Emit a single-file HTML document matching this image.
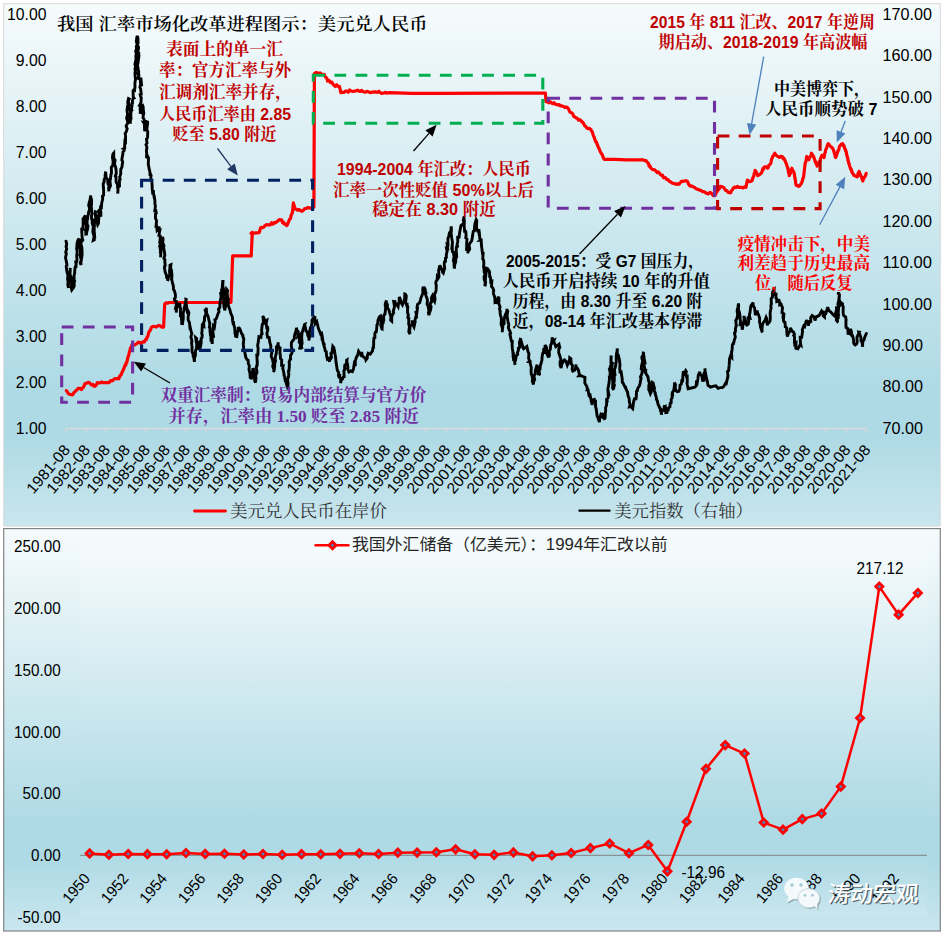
<!DOCTYPE html>
<html lang="zh-CN"><head><meta charset="utf-8"><title>汇率市场化改革进程图示</title>
<style>
html,body{margin:0;padding:0;background:#fff;}
body{width:949px;height:936px;overflow:hidden;}
svg{display:block;}
.ax{font-family:"Liberation Sans", "Noto Sans CJK SC", sans-serif;font-size:15.8px;fill:#000;}
.axx{font-family:"Liberation Sans", "Noto Sans CJK SC", sans-serif;font-size:15.4px;fill:#000;}
.ann{font-family:"Liberation Sans", "Noto Serif CJK SC", serif;font-size:16.67px;font-weight:700;}
.annp{font-family:"Liberation Serif", "Noto Serif CJK SC", serif;font-size:16.67px;font-weight:700;}
.ttl{font-family:"Liberation Sans", "Noto Serif CJK SC", serif;font-size:17.3px;font-weight:600;fill:#000;}
.lg{font-family:"Liberation Sans", "Noto Serif CJK SC", serif;font-size:17.3px;font-weight:400;fill:#333;}
.lg2{font-family:"Liberation Sans", "Noto Sans CJK SC", sans-serif;font-size:16.4px;font-weight:400;fill:#262626;}
</style></head><body>
<svg width="949" height="936" viewBox="0 0 949 936">
<defs>
<linearGradient id="g1" x1="0" y1="0" x2="0" y2="1">
<stop offset="0" stop-color="#F6FBFC"/><stop offset="0.74" stop-color="#AEDAE5"/><stop offset="0.83" stop-color="#AEDAE5"/><stop offset="1" stop-color="#C9E6EE"/>
</linearGradient>
</defs>
<rect x="0" y="0" width="949" height="936" fill="#fff"/>

<rect x="3.7" y="3.7" width="936.6" height="522.4" fill="url(#g1)" stroke="#D9D9D9" stroke-width="1"/>
<path d="M66.0 428.5H866.4" stroke="#D9D9D9" stroke-width="1.3" fill="none"/>
<path d="M66.00 428.5v5M86.01 428.5v5M106.02 428.5v5M126.03 428.5v5M146.04 428.5v5M166.05 428.5v5M186.06 428.5v5M206.07 428.5v5M226.08 428.5v5M246.09 428.5v5M266.10 428.5v5M286.11 428.5v5M306.12 428.5v5M326.13 428.5v5M346.14 428.5v5M366.15 428.5v5M386.16 428.5v5M406.17 428.5v5M426.18 428.5v5M446.19 428.5v5M466.20 428.5v5M486.21 428.5v5M506.22 428.5v5M526.23 428.5v5M546.24 428.5v5M566.25 428.5v5M586.26 428.5v5M606.27 428.5v5M626.28 428.5v5M646.29 428.5v5M666.30 428.5v5M686.31 428.5v5M706.32 428.5v5M726.33 428.5v5M746.34 428.5v5M766.35 428.5v5M786.36 428.5v5M806.37 428.5v5M826.38 428.5v5M846.39 428.5v5M866.40 428.5v5" stroke="#D9D9D9" stroke-width="1.3" fill="none"/>
<text class="ax" x="46.5" y="19.7" text-anchor="end" textLength="39.5" lengthAdjust="spacingAndGlyphs">10.00</text>
<text class="ax" x="46.5" y="65.7" text-anchor="end" textLength="30.7" lengthAdjust="spacingAndGlyphs">9.00</text>
<text class="ax" x="46.5" y="111.7" text-anchor="end" textLength="30.7" lengthAdjust="spacingAndGlyphs">8.00</text>
<text class="ax" x="46.5" y="157.7" text-anchor="end" textLength="30.7" lengthAdjust="spacingAndGlyphs">7.00</text>
<text class="ax" x="46.5" y="203.7" text-anchor="end" textLength="30.7" lengthAdjust="spacingAndGlyphs">6.00</text>
<text class="ax" x="46.5" y="249.7" text-anchor="end" textLength="30.7" lengthAdjust="spacingAndGlyphs">5.00</text>
<text class="ax" x="46.5" y="295.7" text-anchor="end" textLength="30.7" lengthAdjust="spacingAndGlyphs">4.00</text>
<text class="ax" x="46.5" y="341.7" text-anchor="end" textLength="30.7" lengthAdjust="spacingAndGlyphs">3.00</text>
<text class="ax" x="46.5" y="387.7" text-anchor="end" textLength="30.7" lengthAdjust="spacingAndGlyphs">2.00</text>
<text class="ax" x="46.5" y="433.7" text-anchor="end" textLength="30.7" lengthAdjust="spacingAndGlyphs">1.00</text>
<text class="ax" x="882.6" y="19.7" textLength="49.4" lengthAdjust="spacingAndGlyphs">170.00</text>
<text class="ax" x="882.6" y="61.1" textLength="49.4" lengthAdjust="spacingAndGlyphs">160.00</text>
<text class="ax" x="882.6" y="102.5" textLength="49.4" lengthAdjust="spacingAndGlyphs">150.00</text>
<text class="ax" x="882.6" y="143.9" textLength="49.4" lengthAdjust="spacingAndGlyphs">140.00</text>
<text class="ax" x="882.6" y="185.3" textLength="49.4" lengthAdjust="spacingAndGlyphs">130.00</text>
<text class="ax" x="882.6" y="226.7" textLength="49.4" lengthAdjust="spacingAndGlyphs">120.00</text>
<text class="ax" x="882.6" y="268.1" textLength="49.4" lengthAdjust="spacingAndGlyphs">110.00</text>
<text class="ax" x="882.6" y="309.5" textLength="49.4" lengthAdjust="spacingAndGlyphs">100.00</text>
<text class="ax" x="882.6" y="350.9" textLength="40.4" lengthAdjust="spacingAndGlyphs">90.00</text>
<text class="ax" x="882.6" y="392.3" textLength="40.4" lengthAdjust="spacingAndGlyphs">80.00</text>
<text class="ax" x="882.6" y="433.7" textLength="40.4" lengthAdjust="spacingAndGlyphs">70.00</text>
<text class="axx" transform="translate(70.9 450.3) rotate(-50)" text-anchor="end" textLength="58" lengthAdjust="spacingAndGlyphs">1981-08</text>
<text class="axx" transform="translate(90.9 450.3) rotate(-50)" text-anchor="end" textLength="58" lengthAdjust="spacingAndGlyphs">1982-08</text>
<text class="axx" transform="translate(110.9 450.3) rotate(-50)" text-anchor="end" textLength="58" lengthAdjust="spacingAndGlyphs">1983-08</text>
<text class="axx" transform="translate(130.9 450.3) rotate(-50)" text-anchor="end" textLength="58" lengthAdjust="spacingAndGlyphs">1984-08</text>
<text class="axx" transform="translate(150.9 450.3) rotate(-50)" text-anchor="end" textLength="58" lengthAdjust="spacingAndGlyphs">1985-08</text>
<text class="axx" transform="translate(171.0 450.3) rotate(-50)" text-anchor="end" textLength="58" lengthAdjust="spacingAndGlyphs">1986-08</text>
<text class="axx" transform="translate(191.0 450.3) rotate(-50)" text-anchor="end" textLength="58" lengthAdjust="spacingAndGlyphs">1987-08</text>
<text class="axx" transform="translate(211.0 450.3) rotate(-50)" text-anchor="end" textLength="58" lengthAdjust="spacingAndGlyphs">1988-08</text>
<text class="axx" transform="translate(231.0 450.3) rotate(-50)" text-anchor="end" textLength="58" lengthAdjust="spacingAndGlyphs">1989-08</text>
<text class="axx" transform="translate(251.0 450.3) rotate(-50)" text-anchor="end" textLength="58" lengthAdjust="spacingAndGlyphs">1990-08</text>
<text class="axx" transform="translate(271.0 450.3) rotate(-50)" text-anchor="end" textLength="58" lengthAdjust="spacingAndGlyphs">1991-08</text>
<text class="axx" transform="translate(291.0 450.3) rotate(-50)" text-anchor="end" textLength="58" lengthAdjust="spacingAndGlyphs">1992-08</text>
<text class="axx" transform="translate(311.0 450.3) rotate(-50)" text-anchor="end" textLength="58" lengthAdjust="spacingAndGlyphs">1993-08</text>
<text class="axx" transform="translate(331.0 450.3) rotate(-50)" text-anchor="end" textLength="58" lengthAdjust="spacingAndGlyphs">1994-08</text>
<text class="axx" transform="translate(351.0 450.3) rotate(-50)" text-anchor="end" textLength="58" lengthAdjust="spacingAndGlyphs">1995-08</text>
<text class="axx" transform="translate(371.0 450.3) rotate(-50)" text-anchor="end" textLength="58" lengthAdjust="spacingAndGlyphs">1996-08</text>
<text class="axx" transform="translate(391.1 450.3) rotate(-50)" text-anchor="end" textLength="58" lengthAdjust="spacingAndGlyphs">1997-08</text>
<text class="axx" transform="translate(411.1 450.3) rotate(-50)" text-anchor="end" textLength="58" lengthAdjust="spacingAndGlyphs">1998-08</text>
<text class="axx" transform="translate(431.1 450.3) rotate(-50)" text-anchor="end" textLength="58" lengthAdjust="spacingAndGlyphs">1999-08</text>
<text class="axx" transform="translate(451.1 450.3) rotate(-50)" text-anchor="end" textLength="58" lengthAdjust="spacingAndGlyphs">2000-08</text>
<text class="axx" transform="translate(471.1 450.3) rotate(-50)" text-anchor="end" textLength="58" lengthAdjust="spacingAndGlyphs">2001-08</text>
<text class="axx" transform="translate(491.1 450.3) rotate(-50)" text-anchor="end" textLength="58" lengthAdjust="spacingAndGlyphs">2002-08</text>
<text class="axx" transform="translate(511.1 450.3) rotate(-50)" text-anchor="end" textLength="58" lengthAdjust="spacingAndGlyphs">2003-08</text>
<text class="axx" transform="translate(531.1 450.3) rotate(-50)" text-anchor="end" textLength="58" lengthAdjust="spacingAndGlyphs">2004-08</text>
<text class="axx" transform="translate(551.1 450.3) rotate(-50)" text-anchor="end" textLength="58" lengthAdjust="spacingAndGlyphs">2005-08</text>
<text class="axx" transform="translate(571.1 450.3) rotate(-50)" text-anchor="end" textLength="58" lengthAdjust="spacingAndGlyphs">2006-08</text>
<text class="axx" transform="translate(591.2 450.3) rotate(-50)" text-anchor="end" textLength="58" lengthAdjust="spacingAndGlyphs">2007-08</text>
<text class="axx" transform="translate(611.2 450.3) rotate(-50)" text-anchor="end" textLength="58" lengthAdjust="spacingAndGlyphs">2008-08</text>
<text class="axx" transform="translate(631.2 450.3) rotate(-50)" text-anchor="end" textLength="58" lengthAdjust="spacingAndGlyphs">2009-08</text>
<text class="axx" transform="translate(651.2 450.3) rotate(-50)" text-anchor="end" textLength="58" lengthAdjust="spacingAndGlyphs">2010-08</text>
<text class="axx" transform="translate(671.2 450.3) rotate(-50)" text-anchor="end" textLength="58" lengthAdjust="spacingAndGlyphs">2011-08</text>
<text class="axx" transform="translate(691.2 450.3) rotate(-50)" text-anchor="end" textLength="58" lengthAdjust="spacingAndGlyphs">2012-08</text>
<text class="axx" transform="translate(711.2 450.3) rotate(-50)" text-anchor="end" textLength="58" lengthAdjust="spacingAndGlyphs">2013-08</text>
<text class="axx" transform="translate(731.2 450.3) rotate(-50)" text-anchor="end" textLength="58" lengthAdjust="spacingAndGlyphs">2014-08</text>
<text class="axx" transform="translate(751.2 450.3) rotate(-50)" text-anchor="end" textLength="58" lengthAdjust="spacingAndGlyphs">2015-08</text>
<text class="axx" transform="translate(771.2 450.3) rotate(-50)" text-anchor="end" textLength="58" lengthAdjust="spacingAndGlyphs">2016-08</text>
<text class="axx" transform="translate(791.3 450.3) rotate(-50)" text-anchor="end" textLength="58" lengthAdjust="spacingAndGlyphs">2017-08</text>
<text class="axx" transform="translate(811.3 450.3) rotate(-50)" text-anchor="end" textLength="58" lengthAdjust="spacingAndGlyphs">2018-08</text>
<text class="axx" transform="translate(831.3 450.3) rotate(-50)" text-anchor="end" textLength="58" lengthAdjust="spacingAndGlyphs">2019-08</text>
<text class="axx" transform="translate(851.3 450.3) rotate(-50)" text-anchor="end" textLength="58" lengthAdjust="spacingAndGlyphs">2020-08</text>
<text class="axx" transform="translate(871.3 450.3) rotate(-50)" text-anchor="end" textLength="58" lengthAdjust="spacingAndGlyphs">2021-08</text>
<path d="M66.4 390.6 L67.5 392.1 L68.5 393.8 L70.1 394.4 L71.8 394.8 L72.8 394.7 L73.9 392.6 L75.0 391.6 L76.0 390.6 L77.1 389.7 L78.2 388.4 L79.8 388.3 L81.4 389.5 L82.2 388.3 L83.1 387.4 L83.9 386.5 L84.8 383.8 L85.6 383.5 L87.1 382.9 L88.5 382.3 L89.9 383.1 L91.0 384.6 L92.1 385.1 L93.1 384.5 L94.2 386.3 L95.3 386.1 L96.3 384.9 L97.4 382.6 L98.7 383.0 L100.1 382.9 L101.4 381.9 L102.7 382.6 L109.1 382.6 L110.6 380.7 L112.0 380.9 L113.4 379.9 L114.8 378.6 L116.1 378.7 L117.4 378.5 L118.8 378.8 L119.4 376.5 L120.0 376.3 L120.6 375.0 L121.2 374.7 L121.8 372.7 L122.4 371.8 L123.0 370.3 L123.6 369.0 L124.1 368.1 L124.6 366.4 L125.2 364.8 L125.7 365.1 L126.2 362.8 L126.7 362.6 L127.1 361.0 L127.5 359.5 L127.9 357.4 L128.4 356.0 L128.8 355.3 L129.1 353.3 L129.5 351.4 L129.8 351.4 L130.2 349.1 L130.5 347.8 L131.2 347.4 L131.9 345.1 L132.6 344.2 L134.1 345.0 L135.5 344.5 L136.9 343.5 L138.3 342.2 L139.6 342.4 L140.9 343.6 L142.3 342.5 L143.3 341.6 L144.4 341.9 L145.5 339.8 L146.5 339.3 L147.0 337.1 L147.5 337.1 L147.9 336.2 L148.4 333.9 L148.8 332.3 L149.3 331.6 L149.7 330.7 L150.3 330.5 L150.9 328.9 L151.5 327.1 L153.0 326.3 L154.6 326.5 L156.2 327.1 L157.6 325.9 L159.0 325.4 L160.4 326.0 L162.0 327.2 L163.6 327.1 L164.7 304.0 L166.1 302.8 L167.5 303.2 L169.0 302.5 L230.9 302.5 L231.0 301.1 L231.0 299.2 L231.1 299.0 L231.1 296.4 L231.2 296.2 L231.2 293.7 L231.3 293.0 L231.3 291.2 L231.4 290.0 L231.4 290.2 L231.5 288.5 L231.5 286.1 L231.6 286.1 L231.6 283.3 L231.7 282.3 L231.7 282.0 L231.8 280.2 L231.8 277.7 L231.9 278.3 L231.9 275.3 L232.0 274.0 L232.0 273.8 L232.1 271.5 L232.1 270.1 L232.2 268.3 L232.2 267.0 L232.3 266.8 L232.3 264.7 L232.4 264.1 L232.4 262.3 L232.5 261.2 L232.5 260.9 L232.6 258.6 L232.6 257.4 L232.6 255.9 L251.2 255.9 L252.3 232.4 L251.1 233.3 L258.8 232.7 L259.4 232.2 L260.1 229.3 L260.7 227.9 L261.4 227.4 L262.6 227.7 L263.9 227.0 L265.2 225.3 L266.5 224.6 L267.8 224.8 L269.1 224.9 L270.3 224.9 L271.6 222.8 L272.9 224.1 L274.2 222.6 L275.5 222.9 L276.8 221.8 L278.0 220.8 L279.3 219.6 L280.6 219.9 L281.6 219.8 L282.6 222.8 L283.6 222.2 L284.6 224.2 L285.6 224.1 L286.6 225.6 L287.3 225.0 L288.0 223.1 L288.8 221.1 L289.5 219.5 L290.2 218.8 L290.6 218.0 L291.1 215.3 L291.5 214.4 L291.9 213.8 L292.4 212.4 L293.4 202.8 L293.8 204.8 L294.1 205.6 L294.4 206.1 L294.8 208.8 L295.1 209.2 L296.4 209.1 L297.7 210.3 L299.1 209.5 L300.5 210.5 L302.0 211.3 L303.4 210.3 L304.8 208.5 L306.2 208.5 L307.6 207.6 L308.9 207.8 L310.2 208.1 L311.6 207.7 L313.9 207.1 L314.4 73.5 L315.8 72.5 L317.2 72.9 L318.7 73.9 L320.1 72.9 L321.6 74.5 L323.0 74.3 L324.4 74.6 L325.0 76.3 L325.7 77.3 L326.3 77.6 L327.0 78.7 L327.6 81.0 L329.0 80.3 L330.5 82.6 L331.9 82.1 L332.9 84.1 L334.0 85.3 L335.4 86.5 L336.7 84.7 L338.0 86.4 L339.4 86.3 L340.9 92.7 L342.4 92.3 L343.8 92.5 L345.3 91.2 L346.8 91.2 L348.2 92.2 L349.5 90.0 L350.8 90.9 L352.2 91.2 L353.5 91.5 L354.9 91.0 L356.2 90.8 L357.5 90.2 L358.9 91.0 L360.2 91.5 L361.5 90.4 L362.9 91.3 L364.2 92.0 L365.5 92.1 L366.9 91.3 L368.2 91.7 L369.5 92.4 L370.9 92.6 L372.2 92.0 L373.5 92.2 L374.9 91.7 L376.2 92.2 L377.6 92.4 L378.9 91.3 L380.2 92.6 L381.6 93.4 L382.9 93.2 L384.2 93.0 L385.6 92.3 L386.9 93.1 L388.2 92.8 L389.6 92.7 L410.9 93.4 L440.0 93.4 L545.4 93.1 L546.0 101.7 L547.4 101.8 L548.7 102.9 L550.0 101.6 L551.4 102.7 L552.6 103.7 L553.9 102.6 L555.2 104.2 L556.5 104.4 L557.8 104.9 L559.2 104.6 L560.6 106.0 L562.1 105.9 L563.5 106.5 L564.9 107.6 L566.3 107.0 L567.2 107.5 L568.0 108.1 L568.9 109.8 L569.7 111.7 L570.6 112.4 L571.7 112.8 L572.7 113.8 L573.8 116.4 L574.9 117.0 L575.9 117.7 L577.3 118.4 L578.6 120.2 L579.9 119.7 L581.3 120.9 L582.1 122.3 L583.0 122.4 L583.8 124.0 L584.7 125.8 L585.6 126.2 L586.9 128.0 L588.2 128.7 L589.6 128.4 L590.9 129.4 L591.4 130.9 L592.0 131.5 L592.5 132.4 L593.0 134.4 L593.6 136.4 L594.1 136.9 L594.6 139.0 L595.2 140.1 L595.7 141.9 L596.2 141.8 L596.8 142.9 L597.3 144.8 L597.8 145.8 L598.4 147.6 L599.0 148.3 L599.7 150.0 L600.3 151.7 L600.9 152.7 L601.6 154.0 L602.4 154.9 L603.2 157.4 L604.0 159.1 L604.8 159.4 L615.5 159.4 L626.2 159.8 L643.2 159.8 L644.7 160.6 L646.1 160.7 L647.5 162.6 L648.3 162.9 L649.1 166.1 L649.9 165.6 L650.7 167.9 L652.1 169.2 L653.4 169.7 L654.7 169.9 L656.1 171.1 L657.1 172.6 L658.2 171.8 L659.3 172.9 L660.3 174.4 L661.4 175.4 L662.5 175.2 L663.5 177.8 L664.6 177.4 L665.7 178.0 L666.8 179.7 L668.1 179.5 L669.4 181.5 L670.8 181.9 L672.1 182.9 L673.4 183.4 L674.8 183.7 L676.1 184.3 L677.4 183.9 L678.8 184.3 L680.1 183.1 L681.4 181.3 L682.8 181.4 L684.4 181.0 L686.0 180.7 L686.8 181.1 L687.7 181.8 L688.5 183.9 L689.4 185.5 L690.3 186.1 L691.6 185.9 L692.9 186.6 L694.3 187.3 L695.6 188.2 L696.9 189.2 L698.3 189.3 L699.6 190.1 L700.9 190.3 L702.4 191.6 L703.8 191.5 L705.2 192.5 L706.8 193.4 L708.4 193.9 L710.0 192.4 L711.6 193.5 L713.2 195.6 L714.8 195.7 L715.6 194.8 L716.3 192.2 L717.1 191.7 L717.9 190.3 L718.7 189.3 L719.5 188.6 L720.3 186.4 L721.9 186.6 L723.5 187.4 L724.6 188.7 L725.6 190.4 L726.7 190.6 L728.3 192.4 L729.9 192.8 L730.7 192.7 L731.5 190.6 L732.3 189.9 L733.1 188.5 L734.5 187.1 L736.0 187.6 L737.4 186.4 L738.8 187.4 L740.2 187.4 L741.7 187.4 L743.1 187.9 L744.5 186.8 L745.9 187.4 L747.4 180.0 L748.7 181.2 L750.0 181.7 L751.3 181.0 L752.0 180.7 L752.7 178.3 L753.4 176.8 L753.8 176.1 L754.1 173.8 L754.4 173.8 L754.8 172.4 L755.1 170.3 L755.8 171.3 L756.4 172.1 L757.1 174.2 L757.7 175.7 L759.3 174.7 L760.9 173.5 L761.5 172.9 L762.2 171.0 L762.8 168.7 L763.5 169.1 L764.1 167.1 L765.7 166.7 L767.3 168.2 L768.1 167.8 L768.9 165.3 L769.7 164.6 L770.5 163.9 L770.9 163.1 L771.4 160.1 L771.8 158.7 L772.2 158.0 L772.6 156.5 L773.7 155.3 L774.8 153.2 L775.9 155.1 L776.9 155.8 L778.0 156.5 L779.4 157.4 L780.8 156.4 L782.3 156.5 L783.1 158.8 L783.9 158.2 L784.7 159.8 L785.5 161.8 L786.0 163.2 L786.5 164.0 L787.1 166.3 L787.6 167.1 L787.9 168.9 L788.2 170.0 L788.5 172.2 L788.7 173.0 L789.0 173.8 L789.3 175.7 L789.7 174.2 L790.2 174.0 L790.6 172.8 L791.0 170.1 L791.5 170.2 L791.9 168.2 L792.6 170.7 L793.3 171.1 L794.0 172.5 L794.3 174.1 L794.5 174.7 L794.7 176.8 L795.0 178.2 L795.2 179.8 L795.4 180.0 L795.7 183.5 L795.9 183.9 L796.2 185.3 L797.4 185.6 L798.7 186.4 L799.6 186.0 L800.6 184.4 L801.5 183.2 L801.9 181.9 L802.4 181.0 L802.8 178.4 L803.2 178.1 L803.6 176.8 L805.1 163.9 L805.5 162.2 L805.8 161.9 L806.2 160.4 L806.5 157.4 L806.8 156.5 L807.9 158.0 L809.0 159.7 L809.5 157.6 L810.0 156.9 L810.5 156.5 L811.0 155.4 L811.5 153.2 L812.2 154.5 L812.9 155.5 L813.6 156.6 L814.3 158.6 L814.8 160.1 L815.2 162.0 L815.7 161.5 L816.2 164.2 L816.6 163.8 L817.1 166.1 L817.9 164.0 L818.8 162.6 L819.7 161.8 L820.1 160.9 L820.5 158.8 L820.9 157.6 L821.4 156.9 L821.8 155.4 L822.9 155.6 L823.9 157.5 L824.3 156.6 L824.6 153.8 L825.0 153.3 L825.4 151.3 L825.7 149.7 L826.1 149.0 L826.6 147.7 L827.1 146.2 L827.7 144.7 L828.2 143.6 L829.1 144.5 L829.9 145.8 L830.8 146.8 L831.7 147.2 L832.6 148.3 L833.5 150.0 L834.0 151.8 L834.4 153.3 L834.8 154.6 L835.3 156.8 L835.7 157.5 L836.1 156.5 L836.5 155.7 L837.0 153.1 L837.4 152.9 L837.8 151.1 L838.4 150.5 L838.9 149.3 L839.4 146.7 L840.0 145.8 L841.3 144.3 L842.7 143.6 L843.4 145.9 L844.0 145.7 L844.7 148.7 L845.3 149.0 L845.7 151.3 L846.0 151.0 L846.4 152.7 L846.7 155.2 L847.1 155.6 L847.4 157.5 L847.8 158.1 L848.1 161.1 L848.5 161.6 L848.9 163.9 L849.2 163.8 L849.6 166.1 L850.1 167.1 L850.6 169.0 L851.1 168.9 L851.6 170.5 L852.1 172.5 L853.1 173.9 L854.0 175.5 L854.9 175.7 L857.1 176.8 L857.6 176.4 L858.1 173.2 L858.7 172.8 L859.2 171.4 L859.7 173.3 L860.3 174.1 L860.8 175.8 L861.3 176.8 L862.8 181.0 L863.5 178.9 L864.2 177.2 L865.0 176.8 L866.2 173.5" fill="none" stroke="#FF0000" stroke-width="3.2" stroke-linejoin="round" stroke-linecap="round"/>
<path d="M66.0 241.2 L66.7 244.1 L66.4 245.9 L66.1 245.4 L66.1 246.7 L66.7 248.7 L65.7 252.5 L66.4 253.5 L65.5 257.8 L66.1 260.2 L66.9 264.4 L66.8 266.3 L66.5 265.4 L66.2 266.6 L66.4 267.9 L67.0 272.1 L67.7 274.1 L67.9 273.7 L67.7 278.3 L67.5 279.1 L68.1 281.5 L67.7 285.5 L68.0 285.1 L68.6 288.0 L68.4 287.1 L68.1 286.6 L69.2 282.1 L69.2 278.0 L69.7 274.8 L69.8 276.2 L69.6 275.6 L70.1 272.9 L70.2 270.1 L70.2 267.9 L70.1 269.8 L70.2 269.3 L69.9 273.9 L71.0 277.5 L70.8 277.8 L71.2 277.6 L71.9 279.9 L71.2 281.5 L71.9 283.9 L71.2 287.5 L71.8 290.0 L73.4 287.9 L74.2 285.9 L74.2 282.4 L74.9 280.1 L74.1 281.0 L74.1 275.5 L74.7 272.9 L74.6 272.4 L75.0 267.7 L75.4 266.8 L75.9 268.0 L76.1 264.4 L75.8 262.0 L76.5 262.0 L77.0 260.2 L76.7 255.7 L77.2 251.6 L76.6 248.7 L76.8 247.2 L76.8 246.0 L77.2 242.5 L77.8 240.6 L79.0 238.4 L78.9 239.4 L79.3 240.2 L79.8 242.5 L78.7 247.3 L79.3 248.0 L80.2 247.7 L80.3 250.6 L80.7 255.3 L79.6 254.0 L80.7 257.8 L81.4 260.3 L80.2 262.6 L81.0 265.1 L80.9 261.6 L81.4 258.4 L81.7 257.9 L80.9 255.1 L82.0 255.4 L82.1 254.2 L82.1 252.1 L81.8 246.9 L81.0 244.7 L81.2 240.9 L82.0 239.6 L81.9 241.3 L82.8 240.1 L82.2 238.3 L81.8 232.5 L81.7 229.3 L82.9 229.3 L82.6 228.8 L83.1 226.1 L83.1 221.0 L83.4 222.4 L83.0 219.2 L85.5 215.4 L85.1 216.7 L85.8 222.0 L85.2 221.9 L86.3 225.0 L86.7 224.2 L85.9 229.6 L85.6 228.5 L85.9 234.0 L86.5 233.8 L85.9 229.8 L86.8 231.8 L87.7 228.5 L87.9 225.7 L87.1 225.4 L87.1 220.9 L87.7 218.2 L87.8 216.1 L88.7 213.4 L88.4 212.4 L88.7 211.7 L89.6 209.4 L89.4 207.6 L88.7 205.7 L89.0 203.3 L90.2 199.1 L90.3 197.3 L90.6 198.3 L90.8 195.4 L90.5 197.8 L90.9 197.7 L91.6 199.9 L91.5 204.7 L91.2 206.4 L91.7 210.1 L91.8 211.0 L91.7 212.2 L92.0 213.7 L91.5 215.8 L91.6 219.0 L92.7 222.5 L92.1 223.0 L93.2 226.0 L93.2 224.5 L93.6 225.4 L93.2 227.2 L92.8 232.9 L93.0 232.5 L94.1 236.5 L93.3 240.3 L94.3 239.8 L94.4 237.4 L94.8 238.5 L94.4 232.9 L94.2 231.8 L94.2 228.3 L93.7 228.6 L94.4 226.4 L94.4 221.5 L94.8 221.9 L95.8 217.6 L96.1 218.8 L95.1 213.9 L95.7 210.9 L95.6 211.0 L95.2 212.8 L96.2 217.0 L95.7 216.2 L96.1 219.7 L97.5 219.4 L97.5 224.0 L97.7 224.8 L98.4 223.6 L98.7 219.1 L98.9 216.3 L98.3 215.9 L99.2 214.7 L98.3 211.2 L99.1 210.2 L100.3 210.3 L100.9 211.9 L100.8 216.6 L100.6 216.0 L100.6 213.2 L100.4 210.2 L100.5 207.3 L101.4 207.6 L101.7 203.3 L101.3 204.5 L101.8 202.7 L102.7 199.0 L102.4 196.2 L103.5 195.4 L103.7 191.9 L103.7 191.3 L103.4 188.0 L103.2 183.8 L104.3 181.4 L104.0 180.2 L105.1 177.6 L105.4 179.5 L105.1 175.3 L105.5 172.8 L106.0 171.4 L105.6 172.5 L106.3 178.2 L106.1 177.5 L107.2 179.0 L107.7 179.3 L107.9 183.4 L108.2 184.5 L108.9 185.3 L109.1 187.4 L108.9 191.3 L108.6 188.4 L109.3 188.1 L109.9 187.3 L110.5 185.4 L110.0 181.5 L109.6 182.0 L110.4 179.2 L111.1 173.4 L111.1 174.7 L111.5 172.7 L111.3 167.4 L111.5 166.7 L112.4 166.3 L113.0 163.5 L113.1 161.6 L112.4 157.0 L113.0 153.8 L113.7 153.0 L113.7 155.7 L113.9 158.7 L115.1 160.2 L114.5 163.8 L114.7 164.8 L115.7 167.3 L115.9 169.9 L116.0 168.7 L116.3 173.3 L115.3 176.2 L116.1 177.1 L116.0 178.9 L116.2 182.4 L117.3 184.1 L117.5 183.5 L117.6 188.0 L118.2 189.8 L118.1 189.2 L117.7 193.6 L117.7 192.4 L118.1 189.7 L117.8 187.1 L118.1 187.2 L119.5 186.3 L119.4 179.4 L120.3 180.5 L119.7 177.1 L120.8 173.6 L120.7 171.1 L120.8 168.6 L120.7 169.5 L121.1 168.8 L121.9 167.2 L122.7 161.8 L121.8 160.0 L122.5 155.5 L122.7 155.1 L123.0 151.8 L124.2 150.4 L124.3 148.6 L123.9 148.5 L124.8 147.9 L124.6 145.9 L124.9 141.1 L125.5 141.6 L125.6 136.8 L125.2 133.4 L126.3 131.7 L127.2 128.9 L126.4 126.8 L126.1 126.1 L127.3 123.8 L127.5 124.4 L127.9 121.7 L127.5 121.1 L126.6 118.2 L127.1 116.1 L127.6 114.2 L126.9 109.7 L127.0 110.4 L127.4 106.8 L128.2 103.5 L127.8 104.6 L127.8 101.7 L128.5 98.6 L129.2 98.9 L128.3 100.8 L129.2 104.3 L128.4 109.0 L129.6 109.3 L130.2 109.6 L130.5 112.1 L130.5 113.8 L129.6 117.6 L130.2 121.0 L130.3 121.8 L130.4 123.8 L130.3 119.4 L130.2 121.5 L131.1 118.1 L130.8 117.4 L130.9 112.6 L131.4 110.5 L132.4 111.3 L131.4 109.4 L132.4 103.0 L132.5 104.3 L132.4 100.8 L133.3 98.1 L133.9 97.9 L133.2 96.9 L133.1 90.6 L134.0 89.6 L134.6 90.0 L135.0 86.9 L134.9 83.6 L135.5 79.0 L135.5 78.5 L135.2 77.3 L135.0 73.0 L135.7 73.0 L135.0 68.6 L135.6 68.1 L135.3 65.6 L134.9 64.5 L135.6 61.1 L136.2 62.1 L136.1 60.3 L135.8 54.9 L136.5 55.7 L135.7 50.9 L136.5 49.2 L136.3 46.4 L137.3 45.4 L136.3 41.0 L136.8 38.8 L136.6 38.3 L137.3 35.9 L137.9 37.8 L138.1 41.9 L138.3 43.7 L137.7 42.6 L137.3 44.2 L138.5 47.1 L138.6 47.9 L137.8 52.0 L138.6 52.9 L137.8 53.7 L139.0 55.4 L138.8 57.0 L137.9 63.4 L137.4 65.7 L138.3 69.0 L137.6 67.5 L138.7 71.6 L138.5 73.9 L138.5 74.5 L139.0 75.2 L137.9 78.4 L141.0 78.8 L141.4 83.1 L140.4 82.2 L140.7 86.0 L140.7 84.4 L139.9 87.3 L140.6 88.6 L141.3 94.2 L140.2 94.6 L141.1 98.1 L141.3 96.8 L141.0 102.6 L139.9 104.7 L140.5 104.6 L140.1 109.4 L139.8 108.5 L140.4 110.1 L140.2 112.4 L141.1 112.7 L140.9 111.5 L142.0 106.1 L142.7 105.6 L143.2 106.9 L143.2 108.7 L143.8 113.3 L143.2 115.5 L143.0 117.7 L143.8 118.7 L144.0 119.1 L144.7 123.1 L143.8 122.8 L144.8 124.5 L144.4 125.5 L144.6 130.0 L146.1 130.2 L145.7 125.2 L146.7 121.7 L147.6 122.1 L147.7 122.8 L147.2 126.5 L146.8 129.6 L147.7 131.6 L147.7 134.7 L147.5 135.6 L147.7 138.3 L147.6 138.0 L146.5 139.1 L147.0 143.2 L146.0 144.8 L146.9 147.4 L146.4 151.2 L146.7 152.8 L146.6 154.6 L146.5 158.1 L147.7 156.3 L148.5 157.8 L148.3 164.3 L148.9 167.3 L149.2 169.3 L149.0 168.4 L149.9 171.8 L150.0 174.2 L150.5 174.1 L151.1 175.2 L150.8 177.8 L151.6 182.0 L151.8 181.3 L152.2 186.2 L152.1 187.8 L152.5 191.5 L153.5 190.3 L153.4 193.5 L154.4 197.0 L154.1 197.2 L154.9 200.0 L154.9 202.7 L154.9 203.8 L155.4 206.1 L154.8 210.8 L155.9 210.8 L156.4 214.2 L155.5 212.9 L155.5 216.3 L155.5 218.6 L156.8 220.9 L156.6 220.7 L156.1 225.4 L156.5 225.2 L156.9 228.2 L157.1 230.6 L158.8 229.1 L159.3 226.3 L158.6 230.3 L159.9 230.0 L158.9 235.5 L160.2 236.0 L160.1 240.1 L159.7 242.6 L160.4 244.4 L160.6 246.2 L159.7 246.4 L160.5 250.2 L160.5 249.6 L160.5 252.6 L160.8 252.9 L160.6 257.3 L160.9 252.7 L160.2 253.4 L160.3 252.5 L161.2 249.4 L161.3 247.2 L161.9 244.0 L162.3 241.6 L162.3 239.5 L162.5 236.9 L163.1 239.2 L162.6 243.3 L163.5 244.2 L164.0 246.1 L163.7 246.5 L163.7 248.0 L164.5 252.1 L164.8 255.4 L163.9 258.4 L164.9 259.5 L164.8 261.4 L165.2 265.7 L164.5 266.5 L164.5 269.7 L164.7 268.9 L165.1 271.9 L166.8 276.1 L166.4 278.4 L167.5 276.6 L167.7 280.8 L167.8 280.6 L168.1 278.3 L169.7 274.8 L169.5 270.5 L169.8 269.4 L170.0 265.1 L170.9 264.7 L170.5 268.1 L170.7 268.2 L171.3 269.6 L171.9 274.2 L171.8 278.2 L171.4 279.3 L171.8 279.9 L172.5 282.9 L173.4 286.3 L173.4 289.9 L173.5 289.2 L174.5 291.1 L175.4 294.4 L175.4 297.4 L174.4 298.9 L174.7 300.5 L176.0 301.0 L176.4 301.3 L176.1 306.1 L175.5 308.4 L176.5 308.5 L176.2 312.6 L176.8 307.8 L177.7 305.5 L178.9 304.1 L179.8 304.0 L180.1 306.8 L179.5 306.6 L180.7 308.6 L180.5 310.0 L180.4 316.0 L181.3 316.6 L181.2 316.4 L181.7 320.8 L181.7 323.5 L182.5 323.6 L183.3 318.4 L183.2 314.3 L183.0 313.5 L184.1 310.0 L184.3 307.3 L184.0 309.7 L184.9 305.0 L185.5 303.8 L185.2 303.4 L186.2 299.5 L185.9 299.4 L186.1 304.9 L186.2 303.9 L187.0 309.0 L187.4 311.9 L188.3 311.4 L188.9 312.9 L188.2 316.4 L188.1 319.8 L189.3 322.3 L189.6 323.8 L189.9 327.0 L190.1 326.8 L190.9 330.4 L191.9 334.2 L191.9 333.2 L190.9 337.2 L191.7 339.8 L192.1 342.7 L191.5 341.8 L191.8 345.2 L192.2 347.1 L191.9 348.9 L192.1 351.9 L192.5 352.8 L193.5 355.1 L193.4 355.4 L193.1 356.3 L194.5 358.2 L194.4 361.9 L194.0 359.2 L193.8 355.8 L194.8 356.9 L195.4 355.7 L195.5 350.6 L196.1 349.3 L196.5 349.9 L196.7 344.6 L197.1 346.1 L196.1 340.7 L195.7 337.7 L196.7 338.6 L196.5 341.4 L197.6 343.4 L198.5 342.7 L198.8 347.5 L198.9 348.1 L198.7 350.0 L199.6 347.1 L199.7 345.6 L200.4 346.7 L201.1 343.3 L201.2 338.5 L202.0 337.5 L202.3 335.1 L201.8 333.8 L201.7 333.6 L202.0 331.7 L202.3 325.4 L203.9 326.3 L203.6 322.4 L204.5 320.6 L204.5 317.2 L205.3 315.7 L206.0 313.3 L205.4 311.0 L205.9 311.1 L206.3 307.7 L206.3 307.9 L206.6 313.0 L207.6 315.4 L208.1 316.5 L209.1 320.8 L209.7 323.4 L209.8 322.2 L209.6 326.0 L209.3 327.3 L210.0 328.0 L210.0 331.3 L210.4 334.8 L211.2 335.0 L210.8 335.7 L211.0 340.0 L211.8 339.9 L212.2 343.9 L212.4 339.8 L212.2 341.0 L212.4 336.1 L213.5 336.2 L212.9 331.7 L213.1 329.5 L213.1 328.8 L213.3 326.1 L214.4 327.4 L215.2 321.6 L214.7 318.6 L215.1 319.7 L216.4 318.5 L218.0 313.7 L219.0 311.7 L218.5 309.2 L219.8 307.5 L219.8 307.0 L219.9 304.9 L220.3 300.3 L220.8 298.9 L220.6 299.5 L221.1 296.4 L220.6 293.1 L221.6 292.3 L221.5 289.7 L222.2 288.9 L222.4 285.4 L222.7 281.4 L223.0 281.4 L222.7 286.6 L223.5 288.6 L223.5 289.6 L223.6 292.5 L222.9 295.0 L223.2 294.6 L223.8 299.2 L223.2 300.4 L223.7 299.9 L223.6 301.9 L224.1 308.0 L224.2 306.7 L224.7 310.4 L225.1 308.5 L225.2 308.1 L226.1 304.4 L226.1 300.9 L226.4 299.4 L227.0 296.2 L225.9 294.9 L226.3 292.7 L226.6 289.2 L227.0 289.7 L227.6 291.0 L227.2 292.5 L227.6 298.0 L227.4 297.2 L228.5 299.3 L228.0 300.1 L228.3 305.3 L228.7 306.2 L228.8 307.1 L229.8 309.5 L230.7 313.1 L231.5 314.9 L232.4 317.0 L232.6 320.7 L233.1 323.3 L233.6 323.1 L233.7 325.2 L233.8 324.9 L234.7 327.8 L234.9 330.3 L235.0 333.2 L235.6 336.3 L236.8 336.5 L237.7 330.3 L238.4 331.5 L238.2 327.1 L240.0 329.7 L240.1 329.6 L241.8 334.0 L242.9 335.3 L242.8 336.3 L243.8 339.0 L243.3 344.3 L243.2 343.4 L243.6 347.1 L243.7 349.9 L244.6 351.7 L244.8 352.2 L245.4 355.3 L245.7 357.3 L247.1 359.7 L248.1 360.2 L248.3 363.7 L249.3 365.5 L249.2 368.0 L248.9 370.5 L249.2 370.0 L250.0 373.8 L250.2 377.5 L251.3 378.6 L251.0 378.8 L252.1 375.8 L252.7 370.3 L253.7 370.8 L253.0 367.9 L253.4 370.2 L254.6 374.3 L254.3 376.2 L254.0 376.3 L254.8 378.0 L254.7 380.9 L255.5 382.5 L255.7 380.3 L255.5 380.5 L255.7 379.1 L255.6 375.5 L256.8 373.1 L257.0 371.8 L256.3 368.2 L256.7 365.6 L257.2 365.2 L257.3 360.5 L257.2 362.2 L256.9 356.7 L256.7 353.6 L257.4 356.1 L258.0 353.8 L257.9 353.0 L258.1 349.8 L258.1 347.9 L257.6 345.8 L258.1 342.9 L258.3 341.8 L258.9 336.6 L260.9 337.3 L261.3 334.3 L262.1 333.8 L261.6 330.4 L262.0 326.7 L262.3 324.2 L263.3 323.8 L263.3 318.9 L262.7 316.0 L263.5 317.1 L265.2 321.3 L266.8 320.4 L266.2 323.3 L266.8 327.9 L267.7 327.7 L267.9 330.4 L268.3 330.1 L267.5 331.0 L266.9 333.4 L267.5 337.3 L269.1 337.5 L269.9 342.8 L270.8 345.7 L270.9 346.1 L270.6 349.6 L271.9 352.3 L271.5 354.2 L271.2 355.4 L271.2 356.3 L272.9 360.3 L272.5 359.4 L273.5 364.8 L272.9 365.3 L272.7 366.3 L274.0 369.7 L273.7 372.1 L274.2 369.8 L274.7 366.2 L274.8 364.8 L274.6 364.2 L275.3 361.3 L275.6 361.8 L275.1 358.3 L276.2 353.3 L276.4 353.8 L276.3 350.3 L276.8 351.3 L276.3 347.1 L277.9 344.8 L278.3 342.3 L278.1 345.1 L279.4 348.4 L280.1 346.6 L280.0 350.1 L279.9 354.7 L280.2 353.4 L280.5 358.7 L281.7 359.8 L281.6 363.8 L281.6 365.4 L283.2 365.5 L282.7 368.3 L282.9 368.8 L284.1 374.2 L284.0 375.6 L284.9 376.7 L284.8 378.4 L285.5 382.1 L285.7 381.4 L287.1 386.1 L287.6 387.6 L287.8 387.4 L288.1 383.5 L287.6 379.4 L288.5 376.8 L288.7 375.5 L288.8 373.7 L288.2 370.3 L288.7 372.3 L289.4 366.6 L289.1 367.0 L289.4 364.6 L289.1 361.9 L290.4 358.8 L290.6 358.8 L290.4 355.9 L290.8 354.8 L291.6 353.8 L292.4 351.3 L291.3 346.0 L291.4 342.8 L292.0 341.5 L293.4 340.1 L294.5 338.2 L294.3 336.7 L294.7 334.9 L296.2 330.2 L296.4 328.0 L296.3 327.7 L297.1 330.6 L298.2 331.6 L297.7 336.5 L299.4 335.1 L299.5 337.7 L299.2 342.1 L300.6 344.6 L300.1 346.7 L299.8 348.1 L300.8 348.2 L301.8 347.7 L301.3 345.9 L302.1 343.6 L301.8 338.8 L301.6 336.8 L301.8 336.0 L302.0 333.0 L302.0 332.9 L302.5 331.6 L304.0 326.4 L304.7 324.5 L303.8 324.9 L304.7 324.7 L305.0 325.9 L306.1 331.3 L307.4 331.8 L307.8 335.6 L308.6 337.1 L309.3 336.9 L308.7 340.6 L309.6 336.6 L309.4 334.4 L309.4 331.7 L309.7 333.0 L310.2 328.2 L311.3 326.3 L311.9 323.2 L312.2 320.5 L311.5 321.1 L312.9 318.7 L315.0 316.3 L314.8 318.1 L315.2 323.7 L316.8 321.7 L318.1 326.9 L318.2 328.0 L319.9 332.1 L320.6 333.9 L321.5 333.4 L321.9 337.4 L322.3 336.9 L323.1 342.1 L323.7 343.2 L323.3 343.2 L324.4 347.4 L324.7 348.1 L325.3 351.0 L326.3 351.8 L326.5 355.4 L327.4 359.2 L329.2 358.2 L329.6 362.0 L329.4 360.8 L330.2 359.3 L331.5 357.7 L330.9 353.6 L331.8 353.2 L332.1 351.3 L332.8 346.4 L333.9 347.8 L334.0 350.1 L334.5 350.4 L335.0 354.3 L335.3 355.3 L335.9 360.0 L335.9 361.1 L336.2 363.1 L336.3 363.6 L337.2 369.9 L337.6 370.8 L338.7 372.6 L338.5 375.3 L339.7 375.4 L339.3 377.3 L340.8 377.9 L340.6 383.1 L341.7 378.5 L342.7 378.6 L343.4 377.0 L344.2 376.7 L343.9 370.5 L344.7 369.7 L344.6 366.7 L344.9 365.0 L346.4 364.2 L346.7 360.0 L347.0 359.8 L346.6 363.7 L347.5 363.8 L347.9 367.7 L347.5 368.1 L348.7 371.7 L348.9 372.0 L350.9 370.9 L352.4 371.6 L353.5 368.9 L354.2 364.2 L355.3 366.0 L355.3 360.9 L355.6 360.0 L356.3 357.4 L357.6 355.4 L358.6 351.3 L360.7 354.6 L361.7 352.0 L362.2 355.8 L364.4 357.6 L365.5 358.6 L365.9 360.0 L367.3 358.1 L367.3 356.0 L368.2 353.2 L370.2 354.2 L372.5 350.9 L373.1 346.8 L373.4 348.6 L373.7 343.9 L373.6 342.4 L373.9 338.2 L374.9 337.6 L374.8 334.5 L375.5 331.4 L376.0 333.0 L376.5 330.3 L376.9 326.2 L376.8 325.2 L377.6 323.7 L378.0 320.1 L379.1 317.3 L379.9 316.5 L380.5 316.1 L381.1 322.2 L381.2 323.8 L380.7 324.5 L381.1 326.3 L381.9 328.9 L382.1 329.0 L382.4 323.7 L383.2 322.9 L382.9 319.4 L383.8 321.6 L383.6 316.3 L384.3 314.6 L385.0 314.1 L384.9 313.5 L385.4 311.5 L385.3 309.5 L385.9 307.7 L385.3 306.3 L385.2 304.2 L386.4 300.4 L386.2 302.5 L387.4 304.5 L387.4 307.9 L388.5 309.2 L389.1 310.4 L389.7 312.9 L390.1 314.4 L390.9 316.1 L390.7 320.4 L391.7 321.2 L391.7 317.4 L392.4 314.6 L392.0 314.5 L392.5 314.6 L393.7 312.8 L393.3 311.2 L394.5 306.6 L393.7 301.5 L394.4 301.6 L394.8 300.5 L395.2 303.0 L396.8 304.4 L398.1 306.5 L398.5 303.6 L399.4 301.1 L399.2 300.5 L399.2 296.9 L400.2 298.8 L400.8 302.3 L402.4 304.9 L403.3 302.3 L403.5 302.3 L404.7 298.6 L404.8 293.9 L405.4 294.1 L406.3 296.0 L405.9 299.8 L405.5 302.1 L406.4 304.5 L407.1 302.8 L407.1 305.9 L407.8 306.6 L407.5 310.7 L407.5 312.3 L408.4 315.2 L407.9 316.5 L408.0 317.9 L408.8 318.2 L408.7 324.3 L409.5 326.5 L409.3 327.8 L409.2 328.5 L408.8 331.8 L409.9 334.1 L409.7 329.8 L409.8 330.4 L410.2 325.5 L411.6 325.1 L412.2 323.8 L412.2 320.3 L413.2 324.0 L413.8 326.6 L414.0 327.0 L414.9 323.0 L414.6 323.1 L414.8 320.8 L415.9 316.7 L416.5 316.8 L416.4 314.4 L415.6 311.1 L416.9 312.4 L417.5 307.9 L417.0 307.7 L417.5 304.5 L419.7 302.6 L420.6 299.3 L420.8 298.3 L422.2 294.8 L423.0 293.2 L422.7 289.7 L423.0 287.8 L424.4 287.7 L425.3 289.8 L425.3 291.5 L426.0 292.8 L425.3 293.5 L426.2 296.3 L426.7 297.7 L427.5 299.9 L427.1 304.1 L427.2 304.5 L428.1 305.7 L428.9 311.4 L428.4 312.6 L428.9 315.2 L429.7 312.2 L430.6 309.8 L431.1 306.7 L430.4 305.7 L430.3 303.6 L430.7 302.8 L431.6 302.1 L431.5 297.4 L432.5 295.6 L433.8 299.4 L433.9 300.3 L434.6 301.5 L435.1 298.9 L434.8 297.7 L434.5 294.8 L435.8 291.6 L436.1 289.9 L436.2 286.7 L436.3 285.6 L435.8 283.3 L436.1 281.2 L437.1 279.7 L437.3 276.7 L438.3 278.0 L439.0 276.7 L438.6 270.6 L439.4 267.1 L439.4 267.8 L439.9 265.4 L441.5 268.7 L442.6 272.2 L443.3 273.0 L444.4 268.9 L444.8 269.3 L444.2 263.9 L444.6 261.7 L445.5 261.4 L445.5 257.0 L445.5 257.6 L446.4 257.3 L446.3 254.9 L447.1 251.4 L446.5 248.3 L447.7 248.6 L447.1 244.1 L448.0 244.4 L447.9 238.6 L448.9 236.0 L449.1 235.6 L449.0 234.6 L449.6 232.7 L450.9 230.8 L451.2 226.4 L451.4 230.8 L451.0 233.5 L450.8 234.7 L451.4 235.9 L451.3 234.7 L451.7 237.9 L452.5 242.7 L452.4 243.4 L452.0 246.4 L452.3 246.2 L452.3 251.4 L453.1 252.0 L453.3 251.3 L453.7 254.5 L454.0 256.4 L453.4 260.6 L454.1 260.8 L454.0 263.9 L454.3 268.4 L454.4 268.2 L454.8 264.3 L455.4 262.8 L455.7 262.0 L455.9 258.2 L455.9 257.8 L456.7 257.0 L456.3 251.7 L456.2 250.1 L456.6 246.5 L457.5 246.2 L457.1 244.0 L457.8 241.6 L457.7 239.5 L457.7 235.9 L459.0 238.3 L459.6 232.6 L459.6 232.8 L460.4 228.4 L460.7 226.9 L461.1 225.4 L462.7 224.3 L463.8 222.7 L463.3 220.3 L464.0 216.7 L463.8 216.5 L464.5 222.4 L464.4 222.2 L464.0 227.2 L464.3 226.5 L464.6 231.4 L465.8 231.5 L466.1 235.7 L466.0 236.2 L465.7 237.8 L467.0 239.0 L466.7 242.7 L466.7 246.6 L466.5 249.6 L467.3 249.8 L468.1 249.6 L467.8 253.4 L467.9 252.1 L469.7 249.2 L469.1 244.7 L469.6 243.9 L469.8 243.4 L471.4 241.3 L471.8 240.4 L472.6 235.8 L472.8 234.1 L473.3 231.2 L474.4 230.7 L474.4 228.5 L474.8 224.7 L475.2 222.9 L476.2 219.7 L476.8 220.8 L476.5 226.4 L476.8 228.8 L477.8 231.1 L479.0 230.7 L479.1 233.6 L479.4 233.5 L479.8 238.5 L480.5 239.7 L480.0 240.2 L481.2 240.1 L481.4 245.1 L481.4 245.0 L481.9 248.7 L482.1 250.6 L482.5 253.6 L483.1 253.5 L482.8 259.2 L482.4 258.2 L483.6 260.2 L483.9 263.8 L483.6 266.1 L483.6 266.9 L483.9 268.1 L484.3 272.6 L485.2 274.2 L484.1 276.5 L484.2 279.2 L485.3 282.5 L484.8 286.2 L485.4 285.0 L485.1 282.4 L485.7 283.4 L485.4 281.0 L485.4 278.7 L486.0 273.8 L486.8 269.9 L486.7 268.3 L487.4 268.5 L489.4 271.3 L489.7 275.1 L489.6 277.7 L490.1 276.0 L490.5 278.1 L490.8 282.0 L491.8 281.5 L491.5 286.4 L492.8 288.0 L493.8 290.5 L493.2 292.4 L493.1 292.3 L494.4 296.6 L494.8 296.8 L495.0 301.8 L496.2 300.8 L495.9 303.9 L496.9 300.0 L498.0 298.2 L498.8 296.8 L499.0 301.2 L498.7 303.3 L500.0 306.8 L500.4 306.3 L499.5 308.8 L500.3 311.6 L500.0 312.0 L500.6 316.0 L501.3 317.5 L501.3 321.4 L501.1 324.2 L501.7 322.3 L501.1 324.2 L502.4 328.1 L502.4 328.6 L502.3 332.3 L502.4 329.6 L503.0 325.5 L502.6 324.4 L504.2 323.4 L503.7 319.2 L504.2 319.7 L504.7 316.6 L505.4 314.2 L506.5 313.7 L505.7 314.2 L507.0 310.9 L507.0 308.7 L507.0 311.2 L507.7 311.5 L507.1 315.5 L507.3 318.7 L507.4 317.7 L507.9 321.3 L508.4 323.1 L508.6 324.6 L508.8 324.0 L508.4 327.7 L509.1 329.9 L509.9 331.0 L510.6 333.3 L509.9 334.0 L510.7 337.9 L511.4 341.1 L512.3 341.3 L512.1 344.8 L512.3 348.2 L512.9 352.0 L512.9 354.5 L513.8 352.3 L513.0 356.1 L513.4 357.5 L513.6 359.8 L514.5 360.0 L515.0 365.0 L514.7 361.3 L515.4 358.2 L515.8 358.6 L516.3 355.5 L517.7 354.4 L517.5 352.5 L518.5 350.1 L518.3 348.2 L519.8 347.2 L519.4 342.7 L520.3 339.3 L520.8 339.4 L521.8 343.5 L521.7 343.0 L522.6 346.0 L523.3 348.5 L523.6 348.8 L526.8 346.4 L527.2 348.0 L528.0 351.8 L528.9 353.5 L528.6 358.1 L529.6 361.1 L529.1 361.6 L530.2 361.7 L530.3 363.8 L531.3 367.4 L531.1 370.6 L531.1 371.6 L531.2 373.6 L532.0 375.8 L532.6 378.7 L532.3 381.0 L533.1 383.4 L533.5 384.5 L533.5 381.8 L534.7 379.8 L533.9 375.4 L534.9 374.6 L535.1 374.3 L535.2 373.7 L535.3 370.7 L536.7 365.9 L537.2 366.0 L538.1 370.4 L538.4 375.2 L538.4 374.7 L539.5 374.1 L538.8 369.3 L539.2 369.8 L540.0 369.4 L540.3 365.9 L540.8 364.3 L542.0 359.9 L542.0 357.4 L542.7 353.3 L543.5 352.8 L543.7 349.2 L544.7 348.6 L544.9 349.6 L545.1 345.0 L545.7 345.9 L546.6 347.7 L546.5 352.6 L546.3 353.2 L547.3 354.4 L548.4 357.4 L548.4 357.3 L549.4 355.6 L549.2 351.0 L550.3 349.4 L550.6 345.7 L550.6 345.4 L551.5 343.7 L552.1 339.8 L552.3 337.9 L552.2 337.3 L552.1 341.4 L554.0 340.4 L553.7 341.2 L554.2 342.5 L555.8 346.7 L559.0 344.3 L559.8 347.6 L558.8 348.8 L558.7 352.7 L560.2 356.5 L559.6 355.3 L560.7 358.9 L560.9 360.4 L561.3 362.0 L560.1 362.0 L560.1 365.1 L561.1 368.0 L561.8 364.2 L562.9 362.3 L563.9 360.2 L564.4 359.9 L566.0 361.4 L567.3 365.2 L568.8 361.6 L569.4 362.2 L569.7 357.8 L570.9 358.7 L570.9 359.6 L571.2 363.4 L572.5 365.5 L572.2 369.5 L572.8 371.1 L574.6 370.3 L575.4 369.1 L576.0 364.5 L575.9 366.5 L577.2 368.1 L578.4 370.1 L579.5 375.2 L579.1 375.7 L581.2 375.6 L583.6 377.0 L584.9 377.4 L584.8 383.0 L586.5 386.0 L586.8 386.4 L587.4 389.2 L587.2 389.7 L588.0 389.7 L589.0 395.6 L590.2 396.9 L589.8 393.5 L590.4 396.9 L591.0 399.4 L591.1 400.8 L591.9 403.4 L592.0 404.9 L592.9 401.2 L594.1 399.0 L594.0 398.0 L594.5 400.3 L595.5 400.8 L595.5 406.4 L595.8 407.3 L596.6 410.5 L596.2 409.8 L596.7 412.6 L597.1 415.8 L598.6 419.5 L598.5 419.6 L599.4 422.1 L599.8 417.9 L600.8 414.8 L601.9 416.2 L603.0 413.0 L602.9 414.9 L604.1 418.3 L605.0 419.6 L604.8 418.7 L605.2 416.4 L605.3 413.4 L605.7 410.3 L605.6 407.9 L606.6 404.9 L606.6 401.7 L607.3 402.5 L607.0 399.4 L607.0 399.6 L608.3 397.1 L608.1 392.6 L608.5 392.9 L607.8 389.1 L608.3 387.0 L608.4 386.3 L609.1 382.9 L609.0 382.6 L609.5 378.7 L609.4 377.5 L609.9 377.6 L610.2 372.6 L609.5 369.4 L609.9 369.3 L610.3 366.5 L611.0 366.2 L611.0 359.9 L611.0 359.0 L611.0 359.1 L611.1 355.5 L611.2 357.2 L611.0 359.4 L611.1 362.3 L612.4 363.1 L612.0 366.3 L611.6 369.1 L612.5 367.9 L611.9 368.9 L612.9 370.7 L612.6 376.1 L612.4 375.4 L612.7 380.1 L612.6 379.4 L612.8 382.6 L612.6 387.9 L613.7 390.1 L613.4 389.5 L614.4 384.9 L613.7 383.5 L613.6 381.7 L614.2 382.5 L614.3 379.3 L614.3 374.5 L615.3 376.0 L614.9 374.6 L614.5 369.3 L615.1 368.1 L615.6 365.9 L615.9 364.1 L615.6 363.4 L616.3 362.2 L616.2 355.8 L616.5 355.1 L616.5 353.5 L617.4 350.0 L617.1 348.5 L617.3 352.4 L617.1 353.4 L617.3 355.2 L618.3 355.2 L619.4 359.7 L619.9 363.6 L620.0 364.8 L619.7 368.5 L619.8 369.0 L620.0 371.8 L621.1 371.7 L621.8 376.1 L622.2 379.2 L622.2 378.3 L622.3 382.3 L623.2 383.1 L623.7 384.3 L625.3 387.6 L625.7 387.5 L626.0 389.0 L627.5 392.0 L628.1 395.9 L629.1 398.3 L629.4 402.4 L630.2 404.6 L629.5 406.8 L630.7 406.5 L632.7 408.6 L633.2 405.1 L633.5 402.0 L633.8 402.9 L633.7 401.2 L634.5 398.7 L636.0 398.8 L636.3 396.9 L636.5 391.3 L637.3 390.8 L637.8 388.2 L639.3 386.0 L640.0 383.9 L640.6 380.3 L641.4 377.2 L640.8 378.1 L640.4 377.1 L641.9 373.7 L642.4 369.9 L641.2 368.9 L641.6 365.4 L642.3 362.5 L642.7 359.8 L642.1 359.1 L641.8 357.0 L643.2 355.0 L643.3 352.4 L643.5 351.9 L643.5 353.6 L643.8 355.7 L644.3 358.9 L645.0 362.8 L644.1 362.8 L644.1 365.2 L644.9 370.1 L645.8 369.0 L645.7 372.9 L646.7 374.9 L647.6 376.1 L647.9 376.7 L648.5 380.5 L648.8 381.4 L649.5 383.2 L648.8 385.7 L648.8 389.2 L648.9 389.2 L650.4 393.7 L651.2 392.0 L651.8 388.4 L651.6 385.2 L652.2 382.3 L653.1 382.9 L654.1 387.0 L654.5 388.2 L654.0 390.3 L655.3 392.9 L655.1 393.5 L656.5 398.0 L656.4 399.3 L657.3 400.9 L658.1 404.4 L659.4 407.0 L659.5 407.7 L660.6 408.9 L660.3 409.7 L661.5 413.6 L661.3 414.9 L661.5 411.2 L663.3 409.8 L664.0 411.2 L664.2 407.2 L664.5 405.1 L664.8 408.5 L665.4 407.7 L665.8 412.6 L667.0 412.5 L667.1 409.6 L668.3 411.0 L668.2 408.3 L669.9 406.8 L670.2 403.4 L671.2 402.8 L671.2 399.2 L672.1 398.1 L672.1 394.7 L672.6 394.7 L672.4 392.5 L673.7 390.7 L674.5 384.9 L674.4 382.6 L675.5 384.5 L675.2 387.4 L675.9 390.6 L677.3 391.7 L678.8 391.3 L679.9 388.4 L679.9 385.3 L681.3 384.1 L681.8 380.5 L682.7 380.6 L682.9 376.0 L683.3 371.3 L684.4 373.2 L685.7 370.6 L686.4 371.7 L685.8 373.7 L686.7 377.1 L687.2 376.8 L687.3 381.5 L686.9 384.2 L687.2 383.6 L687.3 384.7 L688.2 388.7 L691.4 388.0 L694.8 387.2 L696.2 385.9 L696.4 382.8 L697.1 383.3 L697.7 379.9 L697.9 379.0 L698.3 375.1 L699.8 372.0 L700.1 374.2 L701.4 375.3 L702.0 376.5 L702.7 381.5 L703.8 378.7 L703.9 378.8 L704.1 373.0 L705.0 371.9 L705.0 369.5 L704.9 368.4 L705.0 370.6 L705.7 374.7 L705.4 374.6 L705.8 374.6 L706.7 379.3 L707.3 381.0 L708.0 385.4 L710.1 386.8 L710.5 387.1 L713.8 386.2 L715.8 385.8 L718.1 388.3 L720.3 387.6 L722.3 387.6 L723.7 386.6 L725.5 383.4 L726.2 383.7 L726.8 381.2 L727.8 376.9 L728.0 375.8 L727.5 371.5 L728.7 370.6 L728.8 368.7 L729.2 364.6 L729.1 365.4 L729.3 363.3 L729.5 358.9 L730.4 356.2 L731.8 357.6 L731.5 352.1 L731.8 351.8 L732.2 348.5 L732.4 344.6 L733.0 343.6 L733.3 344.6 L734.3 340.1 L735.1 337.9 L735.3 336.8 L734.5 333.2 L734.9 333.0 L735.6 330.4 L735.3 329.0 L736.4 325.2 L735.9 323.4 L736.1 321.4 L735.7 320.5 L736.7 319.0 L737.7 314.6 L737.1 311.3 L737.6 308.0 L738.2 309.1 L738.7 306.0 L738.5 303.4 L738.0 306.6 L738.4 309.2 L739.2 312.1 L739.1 315.4 L739.8 314.6 L740.3 318.4 L739.8 317.9 L740.5 321.2 L740.2 324.3 L741.4 323.8 L741.8 324.9 L742.2 329.5 L742.6 328.4 L742.9 325.2 L743.6 322.2 L744.0 322.5 L744.1 317.6 L744.0 317.9 L744.0 315.7 L744.0 318.9 L744.5 320.5 L745.3 319.7 L746.1 324.1 L746.8 325.0 L748.2 324.1 L748.7 321.4 L748.4 317.8 L750.0 318.1 L749.7 317.1 L749.4 314.6 L749.9 313.2 L750.7 306.9 L750.9 305.9 L753.2 302.6 L753.1 305.6 L753.3 305.9 L754.6 308.0 L755.2 313.0 L755.3 315.1 L756.7 311.8 L757.2 310.5 L757.6 314.4 L757.7 313.3 L758.5 314.6 L759.7 318.4 L759.5 321.9 L760.2 324.4 L760.5 326.3 L760.5 327.0 L761.9 331.2 L762.1 331.1 L762.0 329.2 L762.5 324.4 L763.8 321.8 L764.8 320.7 L766.1 317.3 L766.8 318.9 L766.5 320.1 L767.1 323.6 L767.5 325.5 L767.6 321.9 L768.6 321.7 L769.3 322.2 L770.1 320.6 L770.3 317.4 L770.1 312.6 L771.0 308.2 L771.1 309.4 L770.9 305.7 L771.5 302.7 L771.3 304.6 L771.2 298.5 L772.5 297.1 L772.4 296.6 L772.5 292.1 L774.0 289.7 L774.2 289.5 L774.1 294.0 L774.5 294.5 L776.0 294.2 L776.0 298.1 L776.7 298.8 L776.8 301.6 L778.5 301.2 L778.7 299.2 L779.6 302.2 L779.7 304.8 L781.1 304.2 L781.4 305.0 L782.5 307.7 L782.0 312.6 L783.3 313.3 L783.1 316.1 L783.8 315.7 L783.4 320.0 L783.9 321.8 L785.0 322.3 L785.3 326.6 L785.7 326.6 L786.7 327.9 L786.8 331.7 L787.1 335.2 L787.8 336.6 L787.7 335.5 L788.8 332.5 L790.1 331.3 L790.4 327.9 L792.1 331.1 L793.5 331.9 L794.5 334.6 L793.7 335.5 L794.6 337.1 L794.4 342.2 L794.7 344.2 L796.0 343.1 L795.8 348.2 L797.8 348.8 L799.5 345.8 L800.3 344.6 L800.8 345.0 L800.5 343.6 L800.2 337.6 L800.5 337.7 L801.7 337.3 L802.5 331.6 L802.3 329.7 L803.8 325.9 L804.7 326.6 L805.9 321.9 L806.5 321.8 L806.4 319.7 L806.7 322.5 L808.5 321.7 L808.5 325.9 L808.4 323.1 L809.0 322.6 L810.8 321.7 L810.7 317.6 L812.1 315.5 L814.1 316.9 L815.0 320.5 L816.1 316.9 L818.4 315.9 L819.5 315.0 L821.6 311.0 L823.2 313.9 L823.2 315.8 L824.5 317.0 L824.6 312.5 L825.9 313.1 L826.5 310.9 L827.4 308.4 L827.7 307.2 L829.0 310.8 L830.9 312.1 L833.1 314.7 L834.5 315.9 L835.6 313.4 L836.3 309.7 L836.5 308.4 L836.5 306.3 L836.9 307.8 L836.9 308.7 L836.7 315.2 L836.6 318.1 L836.3 320.0 L837.4 321.6 L837.5 321.5 L837.1 317.0 L838.2 319.0 L838.3 315.1 L838.6 314.9 L838.2 313.4 L838.6 307.9 L838.4 306.0 L838.3 304.3 L837.7 305.4 L838.4 301.9 L839.1 299.5 L839.3 296.7 L839.5 295.9 L838.6 292.3 L838.3 293.8 L839.4 294.7 L838.8 300.5 L839.7 300.8 L840.2 305.0 L841.6 303.1 L842.4 303.7 L842.3 304.2 L843.2 306.7 L843.1 313.0 L843.3 314.2 L843.8 315.7 L844.9 316.6 L845.7 317.0 L846.1 320.3 L845.9 321.5 L846.0 326.7 L846.1 327.6 L847.6 328.4 L848.0 330.9 L848.1 334.8 L848.3 333.6 L849.2 332.8 L850.6 329.0 L851.6 332.5 L851.1 335.0 L852.2 336.0 L852.7 335.9 L853.7 340.6 L853.6 342.8 L854.6 345.0 L854.4 345.7 L856.6 343.9 L857.2 342.3 L856.9 337.6 L858.4 334.0 L859.3 332.2 L858.7 332.1 L858.8 332.5 L860.0 334.9 L861.1 338.4 L860.9 340.6 L862.0 342.2 L862.6 346.7 L862.7 342.5 L863.4 340.5 L864.2 339.6 L864.6 337.4 L866.4 333.5" fill="none" stroke="#000" stroke-width="2.9" stroke-linejoin="miter" stroke-miterlimit="3" stroke-linecap="round"/>
<rect x="61.7" y="327" width="70.9" height="75.3" fill="none" stroke="#7030A0" stroke-width="3.1" stroke-dasharray="11.8 9.3"/>
<rect x="141.6" y="180.2" width="171.0" height="170.2" fill="none" stroke="#002060" stroke-width="3.1" stroke-dasharray="11.8 9.3"/>
<rect x="313.3" y="75.2" width="229.5" height="48.0" fill="none" stroke="#00B050" stroke-width="3.1" stroke-dasharray="11.8 9.3"/>
<rect x="548.2" y="98.3" width="166.3" height="109.9" fill="none" stroke="#7030A0" stroke-width="3.1" stroke-dasharray="11.8 9.3"/>
<rect x="717.6" y="136" width="102.5" height="72.6" fill="none" stroke="#C00000" stroke-width="3.1" stroke-dasharray="11.8 9.3"/>
<path d="M217.5 148.5L230.9 166.3" stroke="#1F3864" stroke-width="1.3" fill="none"/>
<path d="M237.8 175.5L234.7 163.5L227.1 169.2Z" fill="#1F3864"/>
<path d="M413.5 151.0L429.0 133.4" stroke="#000" stroke-width="1.3" fill="none"/>
<path d="M436.6 124.8L425.4 130.3L432.6 136.6Z" fill="#000"/>
<path d="M170.0 383.0L143.6 367.5" stroke="#000" stroke-width="1.3" fill="none"/>
<path d="M133.7 361.7L141.2 371.6L146.0 363.4Z" fill="#000"/>
<path d="M579.5 254.0L617.5 214.3" stroke="#000" stroke-width="1.3" fill="none"/>
<path d="M625.5 206.0L614.1 211.0L621.0 217.6Z" fill="#000"/>
<path d="M763.7 56.7L751.6 123.8" stroke="#4F81BD" stroke-width="1.3" fill="none"/>
<path d="M749.6 135.1L756.3 124.6L747.0 122.9Z" fill="#4F81BD"/>
<path d="M845.3 120.8L841.0 131.9" stroke="#4F81BD" stroke-width="1.3" fill="none"/>
<path d="M836.8 142.6L845.4 133.6L836.6 130.2Z" fill="#4F81BD"/>
<path d="M819.7 224.8L839.9 186.9" stroke="#4F81BD" stroke-width="1.3" fill="none"/>
<path d="M845.3 176.8L835.7 184.7L844.1 189.2Z" fill="#4F81BD"/>
<text class="ttl" x="57" y="29.9" textLength="370.5" lengthAdjust="spacingAndGlyphs" xml:space="preserve">我国 汇率市场化改革进程图示：美元兑人民币</text>
<text class="ann" fill="#C00000" xml:space="preserve" x="166" y="54.7" textLength="117.0" lengthAdjust="spacingAndGlyphs">表面上的单一汇</text>
<text class="ann" fill="#C00000" xml:space="preserve" x="159" y="76.2" textLength="132.0" lengthAdjust="spacingAndGlyphs">率：官方汇率与外</text>
<text class="ann" fill="#C00000" xml:space="preserve" x="159" y="97.7" textLength="133.0" lengthAdjust="spacingAndGlyphs">汇调剂汇率并存，</text>
<text class="ann" fill="#C00000" xml:space="preserve" x="159" y="119.7" textLength="132.0" lengthAdjust="spacingAndGlyphs">人民币汇率由 <tspan font-size="16.3">2.85</tspan></text>
<text class="ann" fill="#C00000" xml:space="preserve" x="172.5" y="140.2" textLength="104.0" lengthAdjust="spacingAndGlyphs">贬至 <tspan font-size="16.3">5.80</tspan> 附近</text>
<text class="ann" fill="#C00000" xml:space="preserve" x="337" y="174.8" textLength="194.0" lengthAdjust="spacingAndGlyphs"><tspan font-size="16.3">1994-2004</tspan> 年汇改：人民币</text>
<text class="ann" fill="#C00000" xml:space="preserve" x="333" y="195.8" textLength="201.0" lengthAdjust="spacingAndGlyphs">汇率一次性贬值 <tspan font-size="16.3">50%</tspan>以上后</text>
<text class="ann" fill="#C00000" xml:space="preserve" x="372" y="215.0" textLength="124.0" lengthAdjust="spacingAndGlyphs">稳定在 <tspan font-size="16.3">8.30</tspan> 附近</text>
<text class="ann" fill="#C00000" xml:space="preserve" x="650" y="28.2" textLength="225.0" lengthAdjust="spacingAndGlyphs"><tspan font-size="16.3">2015</tspan> 年 <tspan font-size="16.3">811</tspan> 汇改、<tspan font-size="16.3">2017</tspan> 年逆周</text>
<text class="ann" fill="#C00000" xml:space="preserve" x="658.5" y="47.7" textLength="209.0" lengthAdjust="spacingAndGlyphs">期启动、<tspan font-size="16.3">2018-2019</tspan> 年高波幅</text>
<text class="ann" fill="#000" xml:space="preserve" x="774" y="94.7" textLength="96.0" lengthAdjust="spacingAndGlyphs">中美博弈下，</text>
<text class="ann" fill="#000" xml:space="preserve" x="765" y="115.2" textLength="112.5" lengthAdjust="spacingAndGlyphs">人民币顺势破 <tspan font-size="16.3">7</tspan></text>
<text class="ann" fill="#FF0000" xml:space="preserve" x="737.5" y="249.7" textLength="132.5" lengthAdjust="spacingAndGlyphs">疫情冲击下，中美</text>
<text class="ann" fill="#FF0000" xml:space="preserve" x="737.5" y="268.7" textLength="132.5" lengthAdjust="spacingAndGlyphs">利差趋于历史最高</text>
<text class="ann" fill="#FF0000" xml:space="preserve" x="755" y="288.7" textLength="97.5" lengthAdjust="spacingAndGlyphs">位，随后反复</text>
<text class="ann" fill="#000" xml:space="preserve" x="506" y="267.2" textLength="198.0" lengthAdjust="spacingAndGlyphs"><tspan font-size="16.3">2005-2015</tspan>：受 <tspan font-size="16.3">G7</tspan> 国压力，</text>
<text class="ann" fill="#000" xml:space="preserve" x="502.5" y="287.2" textLength="207.5" lengthAdjust="spacingAndGlyphs">人民币开启持续 <tspan font-size="16.3">10</tspan> 年的升值</text>
<text class="ann" fill="#000" xml:space="preserve" x="512.5" y="307.2" textLength="190.0" lengthAdjust="spacingAndGlyphs">历程，由 <tspan font-size="16.3">8.30</tspan> 升至 <tspan font-size="16.3">6.20</tspan> 附</text>
<text class="ann" fill="#000" xml:space="preserve" x="512.5" y="327.2" textLength="190.0" lengthAdjust="spacingAndGlyphs">近，<tspan font-size="16.3">08-14</tspan> 年汇改基本停滞</text>
<text class="annp" fill="#7030A0" xml:space="preserve" x="160.5" y="401.2" textLength="266.0" lengthAdjust="spacingAndGlyphs">双重汇率制：贸易内部结算与官方价</text>
<text class="annp" fill="#7030A0" xml:space="preserve" x="168.5" y="422.2" textLength="250.5" lengthAdjust="spacingAndGlyphs">并存，汇率由 1.50 贬至 2.85 附近</text>
<path d="M194.5 511H225.5" stroke="#FF0000" stroke-width="2.8" stroke-linecap="round"/>
<text class="lg" x="230" y="517.3" textLength="157" lengthAdjust="spacingAndGlyphs">美元兑人民币在岸价</text>
<path d="M579.5 510.6H609.5" stroke="#000" stroke-width="2.4" stroke-linecap="round"/>
<text class="lg" x="614.3" y="517.3" textLength="138.5" lengthAdjust="spacingAndGlyphs">美元指数（右轴）</text>
<rect x="3.7" y="528.6" width="936.6" height="402.4" fill="url(#g1)" stroke="#7F7F7F" stroke-width="1.15"/>
<rect x="80.0" y="545.7" width="847.0" height="371.29999999999995" fill="url(#g1)"/>
<path d="M80.0 855.3H927.0" stroke="#808080" stroke-width="1" fill="none"/>
<text class="ax" x="60.6" y="551.9" text-anchor="end" textLength="46.5" lengthAdjust="spacingAndGlyphs">250.00</text>
<text class="ax" x="60.6" y="613.8" text-anchor="end" textLength="46.5" lengthAdjust="spacingAndGlyphs">200.00</text>
<text class="ax" x="60.6" y="675.7" text-anchor="end" textLength="46.5" lengthAdjust="spacingAndGlyphs">150.00</text>
<text class="ax" x="60.6" y="737.6" text-anchor="end" textLength="46.5" lengthAdjust="spacingAndGlyphs">100.00</text>
<text class="ax" x="60.6" y="799.4" text-anchor="end" textLength="38.0" lengthAdjust="spacingAndGlyphs">50.00</text>
<text class="ax" x="60.6" y="861.3" text-anchor="end" textLength="29.6" lengthAdjust="spacingAndGlyphs">0.00</text>
<text class="ax" x="60.6" y="923.2" text-anchor="end" textLength="43.1" lengthAdjust="spacingAndGlyphs">-50.00</text>
<text class="axx" transform="translate(90.7 879.0) rotate(-50)" text-anchor="end" textLength="33" lengthAdjust="spacingAndGlyphs">1950</text>
<text class="axx" transform="translate(129.3 879.0) rotate(-50)" text-anchor="end" textLength="33" lengthAdjust="spacingAndGlyphs">1952</text>
<text class="axx" transform="translate(167.8 879.0) rotate(-50)" text-anchor="end" textLength="33" lengthAdjust="spacingAndGlyphs">1954</text>
<text class="axx" transform="translate(206.3 879.0) rotate(-50)" text-anchor="end" textLength="33" lengthAdjust="spacingAndGlyphs">1956</text>
<text class="axx" transform="translate(244.8 879.0) rotate(-50)" text-anchor="end" textLength="33" lengthAdjust="spacingAndGlyphs">1958</text>
<text class="axx" transform="translate(283.3 879.0) rotate(-50)" text-anchor="end" textLength="33" lengthAdjust="spacingAndGlyphs">1960</text>
<text class="axx" transform="translate(321.9 879.0) rotate(-50)" text-anchor="end" textLength="33" lengthAdjust="spacingAndGlyphs">1962</text>
<text class="axx" transform="translate(360.4 879.0) rotate(-50)" text-anchor="end" textLength="33" lengthAdjust="spacingAndGlyphs">1964</text>
<text class="axx" transform="translate(398.9 879.0) rotate(-50)" text-anchor="end" textLength="33" lengthAdjust="spacingAndGlyphs">1966</text>
<text class="axx" transform="translate(437.4 879.0) rotate(-50)" text-anchor="end" textLength="33" lengthAdjust="spacingAndGlyphs">1968</text>
<text class="axx" transform="translate(476.0 879.0) rotate(-50)" text-anchor="end" textLength="33" lengthAdjust="spacingAndGlyphs">1970</text>
<text class="axx" transform="translate(514.5 879.0) rotate(-50)" text-anchor="end" textLength="33" lengthAdjust="spacingAndGlyphs">1972</text>
<text class="axx" transform="translate(553.0 879.0) rotate(-50)" text-anchor="end" textLength="33" lengthAdjust="spacingAndGlyphs">1974</text>
<text class="axx" transform="translate(591.5 879.0) rotate(-50)" text-anchor="end" textLength="33" lengthAdjust="spacingAndGlyphs">1976</text>
<text class="axx" transform="translate(630.0 879.0) rotate(-50)" text-anchor="end" textLength="33" lengthAdjust="spacingAndGlyphs">1978</text>
<text class="axx" transform="translate(668.6 879.0) rotate(-50)" text-anchor="end" textLength="33" lengthAdjust="spacingAndGlyphs">1980</text>
<text class="axx" transform="translate(707.1 879.0) rotate(-50)" text-anchor="end" textLength="33" lengthAdjust="spacingAndGlyphs">1982</text>
<text class="axx" transform="translate(745.6 879.0) rotate(-50)" text-anchor="end" textLength="33" lengthAdjust="spacingAndGlyphs">1984</text>
<text class="axx" transform="translate(784.1 879.0) rotate(-50)" text-anchor="end" textLength="33" lengthAdjust="spacingAndGlyphs">1986</text>
<text class="axx" transform="translate(822.7 879.0) rotate(-50)" text-anchor="end" textLength="33" lengthAdjust="spacingAndGlyphs">1988</text>
<text class="axx" transform="translate(861.2 879.0) rotate(-50)" text-anchor="end" textLength="33" lengthAdjust="spacingAndGlyphs">1990</text>
<text class="axx" transform="translate(899.7 879.0) rotate(-50)" text-anchor="end" textLength="33" lengthAdjust="spacingAndGlyphs">1992</text>
<path d="M89.6 853.4 L108.9 854.7 L128.2 854.0 L147.4 854.2 L166.7 854.2 L185.9 853.1 L205.2 853.9 L224.5 853.8 L243.7 854.4 L263.0 854.0 L282.2 854.7 L301.5 854.2 L320.8 854.3 L340.0 853.8 L359.3 853.2 L378.6 854.0 L397.8 852.7 L417.1 852.6 L436.3 852.3 L455.6 849.3 L474.9 854.2 L494.1 854.8 L513.4 852.4 L532.6 856.3 L551.9 855.3 L571.2 853.0 L590.4 848.1 L609.7 843.5 L628.9 853.2 L648.2 844.9 L667.5 871.3 L686.7 821.8 L706.0 768.8 L725.3 745.1 L744.5 753.6 L763.8 822.6 L783.0 829.7 L802.3 819.1 L821.6 813.6 L840.8 786.6 L860.1 718.0 L879.3 586.6 L898.6 614.7 L917.9 592.9" fill="none" stroke="#FF0000" stroke-width="2.5" stroke-linejoin="round"/>
<path d="M89.6 849.7L93.3 853.4L89.6 857.0L86.0 853.4Z" fill="#4F81BD" stroke="#FF0000" stroke-width="2.7" stroke-linejoin="miter"/>
<path d="M108.9 851.1L112.5 854.7L108.9 858.4L105.2 854.7Z" fill="#4F81BD" stroke="#FF0000" stroke-width="2.7" stroke-linejoin="miter"/>
<path d="M128.2 850.3L131.8 854.0L128.2 857.6L124.5 854.0Z" fill="#4F81BD" stroke="#FF0000" stroke-width="2.7" stroke-linejoin="miter"/>
<path d="M147.4 850.5L151.1 854.2L147.4 857.8L143.8 854.2Z" fill="#4F81BD" stroke="#FF0000" stroke-width="2.7" stroke-linejoin="miter"/>
<path d="M166.7 850.6L170.3 854.2L166.7 857.9L163.0 854.2Z" fill="#4F81BD" stroke="#FF0000" stroke-width="2.7" stroke-linejoin="miter"/>
<path d="M185.9 849.4L189.6 853.1L185.9 856.7L182.3 853.1Z" fill="#4F81BD" stroke="#FF0000" stroke-width="2.7" stroke-linejoin="miter"/>
<path d="M205.2 850.2L208.8 853.9L205.2 857.5L201.5 853.9Z" fill="#4F81BD" stroke="#FF0000" stroke-width="2.7" stroke-linejoin="miter"/>
<path d="M224.5 850.1L228.1 853.8L224.5 857.4L220.8 853.8Z" fill="#4F81BD" stroke="#FF0000" stroke-width="2.7" stroke-linejoin="miter"/>
<path d="M243.7 850.8L247.4 854.4L243.7 858.1L240.1 854.4Z" fill="#4F81BD" stroke="#FF0000" stroke-width="2.7" stroke-linejoin="miter"/>
<path d="M263.0 850.4L266.6 854.0L263.0 857.7L259.3 854.0Z" fill="#4F81BD" stroke="#FF0000" stroke-width="2.7" stroke-linejoin="miter"/>
<path d="M282.2 851.1L285.9 854.7L282.2 858.4L278.6 854.7Z" fill="#4F81BD" stroke="#FF0000" stroke-width="2.7" stroke-linejoin="miter"/>
<path d="M301.5 850.5L305.2 854.2L301.5 857.8L297.9 854.2Z" fill="#4F81BD" stroke="#FF0000" stroke-width="2.7" stroke-linejoin="miter"/>
<path d="M320.8 850.6L324.4 854.3L320.8 857.9L317.1 854.3Z" fill="#4F81BD" stroke="#FF0000" stroke-width="2.7" stroke-linejoin="miter"/>
<path d="M340.0 850.2L343.7 853.8L340.0 857.5L336.4 853.8Z" fill="#4F81BD" stroke="#FF0000" stroke-width="2.7" stroke-linejoin="miter"/>
<path d="M359.3 849.6L362.9 853.2L359.3 856.9L355.6 853.2Z" fill="#4F81BD" stroke="#FF0000" stroke-width="2.7" stroke-linejoin="miter"/>
<path d="M378.6 850.4L382.2 854.0L378.6 857.7L374.9 854.0Z" fill="#4F81BD" stroke="#FF0000" stroke-width="2.7" stroke-linejoin="miter"/>
<path d="M397.8 849.0L401.5 852.7L397.8 856.3L394.2 852.7Z" fill="#4F81BD" stroke="#FF0000" stroke-width="2.7" stroke-linejoin="miter"/>
<path d="M417.1 849.0L420.7 852.6L417.1 856.3L413.4 852.6Z" fill="#4F81BD" stroke="#FF0000" stroke-width="2.7" stroke-linejoin="miter"/>
<path d="M436.3 848.6L440.0 852.3L436.3 855.9L432.7 852.3Z" fill="#4F81BD" stroke="#FF0000" stroke-width="2.7" stroke-linejoin="miter"/>
<path d="M455.6 845.7L459.2 849.3L455.6 853.0L451.9 849.3Z" fill="#4F81BD" stroke="#FF0000" stroke-width="2.7" stroke-linejoin="miter"/>
<path d="M474.9 850.6L478.5 854.2L474.9 857.9L471.2 854.2Z" fill="#4F81BD" stroke="#FF0000" stroke-width="2.7" stroke-linejoin="miter"/>
<path d="M494.1 851.2L497.8 854.8L494.1 858.5L490.5 854.8Z" fill="#4F81BD" stroke="#FF0000" stroke-width="2.7" stroke-linejoin="miter"/>
<path d="M513.4 848.7L517.0 852.4L513.4 856.0L509.7 852.4Z" fill="#4F81BD" stroke="#FF0000" stroke-width="2.7" stroke-linejoin="miter"/>
<path d="M532.6 852.7L536.3 856.3L532.6 860.0L529.0 856.3Z" fill="#4F81BD" stroke="#FF0000" stroke-width="2.7" stroke-linejoin="miter"/>
<path d="M551.9 851.6L555.6 855.3L551.9 858.9L548.3 855.3Z" fill="#4F81BD" stroke="#FF0000" stroke-width="2.7" stroke-linejoin="miter"/>
<path d="M571.2 849.4L574.8 853.0L571.2 856.7L567.5 853.0Z" fill="#4F81BD" stroke="#FF0000" stroke-width="2.7" stroke-linejoin="miter"/>
<path d="M590.4 844.5L594.1 848.1L590.4 851.8L586.8 848.1Z" fill="#4F81BD" stroke="#FF0000" stroke-width="2.7" stroke-linejoin="miter"/>
<path d="M609.7 839.9L613.3 843.5L609.7 847.2L606.0 843.5Z" fill="#4F81BD" stroke="#FF0000" stroke-width="2.7" stroke-linejoin="miter"/>
<path d="M628.9 849.6L632.6 853.2L628.9 856.9L625.3 853.2Z" fill="#4F81BD" stroke="#FF0000" stroke-width="2.7" stroke-linejoin="miter"/>
<path d="M648.2 841.3L651.9 844.9L648.2 848.6L644.6 844.9Z" fill="#4F81BD" stroke="#FF0000" stroke-width="2.7" stroke-linejoin="miter"/>
<path d="M667.5 867.7L671.1 871.3L667.5 875.0L663.8 871.3Z" fill="#4F81BD" stroke="#FF0000" stroke-width="2.7" stroke-linejoin="miter"/>
<path d="M686.7 818.1L690.4 821.8L686.7 825.4L683.1 821.8Z" fill="#4F81BD" stroke="#FF0000" stroke-width="2.7" stroke-linejoin="miter"/>
<path d="M706.0 765.2L709.6 768.8L706.0 772.5L702.3 768.8Z" fill="#4F81BD" stroke="#FF0000" stroke-width="2.7" stroke-linejoin="miter"/>
<path d="M725.3 741.5L728.9 745.1L725.3 748.8L721.6 745.1Z" fill="#4F81BD" stroke="#FF0000" stroke-width="2.7" stroke-linejoin="miter"/>
<path d="M744.5 749.9L748.2 753.6L744.5 757.2L740.9 753.6Z" fill="#4F81BD" stroke="#FF0000" stroke-width="2.7" stroke-linejoin="miter"/>
<path d="M763.8 818.9L767.4 822.6L763.8 826.2L760.1 822.6Z" fill="#4F81BD" stroke="#FF0000" stroke-width="2.7" stroke-linejoin="miter"/>
<path d="M783.0 826.0L786.7 829.7L783.0 833.3L779.4 829.7Z" fill="#4F81BD" stroke="#FF0000" stroke-width="2.7" stroke-linejoin="miter"/>
<path d="M802.3 815.5L806.0 819.1L802.3 822.8L798.7 819.1Z" fill="#4F81BD" stroke="#FF0000" stroke-width="2.7" stroke-linejoin="miter"/>
<path d="M821.6 809.9L825.2 813.6L821.6 817.2L817.9 813.6Z" fill="#4F81BD" stroke="#FF0000" stroke-width="2.7" stroke-linejoin="miter"/>
<path d="M840.8 783.0L844.5 786.6L840.8 790.3L837.2 786.6Z" fill="#4F81BD" stroke="#FF0000" stroke-width="2.7" stroke-linejoin="miter"/>
<path d="M860.1 714.4L863.7 718.0L860.1 721.7L856.4 718.0Z" fill="#4F81BD" stroke="#FF0000" stroke-width="2.7" stroke-linejoin="miter"/>
<path d="M879.3 582.9L883.0 586.6L879.3 590.2L875.7 586.6Z" fill="#4F81BD" stroke="#FF0000" stroke-width="2.7" stroke-linejoin="miter"/>
<path d="M898.6 611.0L902.3 614.7L898.6 618.3L895.0 614.7Z" fill="#4F81BD" stroke="#FF0000" stroke-width="2.7" stroke-linejoin="miter"/>
<path d="M917.9 589.3L921.5 592.9L917.9 596.6L914.2 592.9Z" fill="#4F81BD" stroke="#FF0000" stroke-width="2.7" stroke-linejoin="miter"/>
<path d="M315.5 545.2H348.5" stroke="#FF0000" stroke-width="2.4" stroke-linecap="round"/>
<path d="M332.5 541.6L336.1 545.3L332.5 548.9L328.9 545.3Z" fill="#4F81BD" stroke="#FF0000" stroke-width="2.7" stroke-linejoin="miter"/>
<text class="lg2" x="352" y="550.0" textLength="315.5" lengthAdjust="spacingAndGlyphs">我国外汇储备（亿美元）：1994年汇改以前</text>
<text class="ax" x="856.5" y="574.2" textLength="47" lengthAdjust="spacingAndGlyphs">217.12</text>
<text class="ax" x="681.5" y="878.2" textLength="43.5" lengthAdjust="spacingAndGlyphs">-12.96</text>
<g>
<g transform="translate(1.2 1.2)" fill="#5f7078" opacity="0.5">
<ellipse cx="796.5" cy="888.5" rx="12.2" ry="10.8"/><path d="M789 896l-2.5 6.5 7-3.5z"/>
<ellipse cx="808.8" cy="898.2" rx="10.9" ry="9.6"/><path d="M814 905.5l3.5 3.5-0.5-5.5z"/>
</g>
<ellipse cx="796.5" cy="888.5" rx="12.2" ry="10.8" fill="#F4FAFB"/><path d="M789 896l-2.5 6.5 7-3.5z" fill="#F4FAFB"/>
<ellipse cx="808.8" cy="898.2" rx="10.9" ry="9.6" fill="#F4FAFB" stroke="#c3d6dc" stroke-width="1"/><path d="M814 905.5l3.5 3.5-0.5-5.5z" fill="#F4FAFB"/>
<circle cx="792" cy="885" r="1.7" fill="#9fc9d6"/><circle cx="801" cy="885" r="1.7" fill="#9fc9d6"/>
<circle cx="805" cy="895.3" r="1.4" fill="#9fc9d6"/><circle cx="812.5" cy="895.3" r="1.4" fill="#9fc9d6"/>
<g transform="translate(827 902) skewX(-4)">
<text x="1.3" y="1.3" font-family='"Liberation Sans", "Noto Sans CJK SC", sans-serif' font-size="22.6" font-weight="500" fill="#39464c" opacity="0.8" textLength="91" lengthAdjust="spacingAndGlyphs">涛动宏观</text>
<text x="0" y="0" font-family='"Liberation Sans", "Noto Sans CJK SC", sans-serif' font-size="22.6" font-weight="500" fill="#FFFFFF" textLength="91" lengthAdjust="spacingAndGlyphs">涛动宏观</text>
</g>
</g>
</svg></body></html>
